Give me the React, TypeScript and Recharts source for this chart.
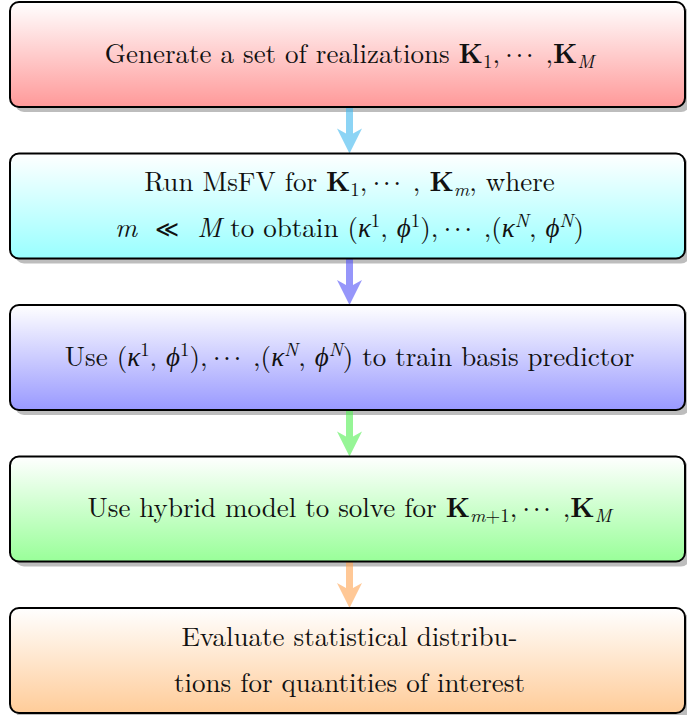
import React from "react";
import { BarChart, Bar, XAxis, YAxis } from "recharts";

// segment styles: n = roman, b = bold, i = italic, g = greek italic, o = relation,
// d = centred dots, sub/sup = scripts (i = italic script)
type Kind = "n" | "b" | "i" | "g" | "o" | "d" | "sub" | "subi" | "sup" | "supi";
type Seg = [string, Kind];

const DOTS = "\u22c5\u22c5\u22c5";

const stepIds = ["generate", "msfv", "train", "hybrid", "evaluate"];
const stepSpan = [1, 1, 1, 1, 1];

const stepText: Seg[][][] = [
  [[
    ["Generate a set of realizations ", "n"], ["K", "b"], ["1", "sub"], [",\u2009", "n"], [DOTS, "d"], [" ,", "n"],
    ["K", "b"], ["M", "subi"],
  ]],
  [
    [
      ["Run MsFV for ", "n"], ["K", "b"], ["1", "sub"], [",\u2009", "n"], [DOTS, "d"], [" , ", "n"], ["K", "b"],
      ["m", "subi"], [", where", "n"],
    ],
    [
      ["m", "i"], ["  ", "n"], ["\u226a", "o"], ["  ", "n"], ["M", "i"], [" to obtain (", "n"], ["\u03ba", "g"], ["1", "sup"],
      [", ", "n"], ["\u03d5", "g"], ["1", "sup"], ["),\u2009", "n"], [DOTS, "d"], [" ,(", "n"], ["\u03ba", "g"],
      ["N", "supi"], [", ", "n"], ["\u03d5", "g"], ["N", "supi"], [")", "n"],
    ],
  ],
  [[
    ["Use (", "n"], ["\u03ba", "g"], ["1", "sup"], [", ", "n"], ["\u03d5", "g"], ["1", "sup"], ["),\u2009", "n"],
    [DOTS, "d"], [" ,(", "n"], ["\u03ba", "g"], ["N", "supi"], [", ", "n"], ["\u03d5", "g"], ["N", "supi"],
    [") to train basis predictor", "n"],
  ]],
  [[
    ["Use hybrid model to solve for ", "n"], ["K", "b"], ["m", "subi"], ["+1", "sub"], [",\u2009", "n"],
    [DOTS, "d"], [" ,", "n"], ["K", "b"], ["M", "subi"],
  ]],
  [
    [["Evaluate statistical distribu-", "n"]],
    [["tions for quantities of interest", "n"]],
  ],
];

const data = stepIds.map((id, i) => ({ id, span: stepSpan[i], lines: stepText[i] }));

const BOX_BOTTOM = ["#ff9999", "#99ffff", "#9999ff", "#99ff99", "#ffcc99"];
const ARROW = ["#3fb7ee", "#5050f7", "#50ee50", "#ffa350"];

const W = 687;
const H = 715;
const MT = -21;
const MB = -21.5;
const BAR = 105;
const BAND = (H - MT - MB) / stepIds.length;

const FONT = "Latin Modern Roman";
const GREEK_FONT = "Liberation Serif";
const REL_FONT = "DejaVu Serif";
const FS = 27;
const LINE_GAP = 46;

function segStyle(kind: Kind): React.CSSProperties {
  const script = kind === "sub" || kind === "subi" || kind === "sup" || kind === "supi";
  return {
    fontFamily: kind === "g" ? GREEK_FONT : kind === "o" || kind === "d" ? REL_FONT : FONT,
    fontSize: script ? FS * 0.7 : kind === "o" ? FS * 0.85 : kind === "d" ? FS * 0.8 : FS,
    fontWeight: kind === "b" ? "bold" : "normal",
    fontStyle: kind === "i" || kind === "g" || kind === "subi" || kind === "supi" ? "italic" : "normal",
    letterSpacing: kind === "d" ? 3 : 0,
  };
}

function RichLine({ segs, x, y }: { segs: Seg[]; x: number; y: number }) {
  let cur = 0;
  return (
    <text
      x={x}
      y={y}
      textAnchor="middle"
      fill="#111"
      style={{ fontFamily: FONT, fontSize: FS, whiteSpace: "pre" }}
    >
      {segs.map(([t, kind], k) => {
        const target = kind === "sub" || kind === "subi" ? 5 : kind === "sup" || kind === "supi" ? -10 : 0;
        const dy = target - cur;
        cur = target;
        return (
          <tspan key={k} dy={dy} style={segStyle(kind)}>
            {t}
          </tspan>
        );
      })}
    </text>
  );
}

function StepBox(props: any) {
  const { x, y, width, height, payload } = props;
  const i = stepIds.indexOf(payload.id);
  const cx = x + width / 2 + 2;
  const lines: Seg[][] = payload.lines;
  const mid = y + height / 2;
  const first = mid - ((lines.length - 1) * LINE_GAP) / 2 + 8;

  let arrow = null;
  if (i < stepIds.length - 1) {
    const y0 = y + height;
    const tip = y + BAND;
    arrow = (
      <path
        d={`M${cx - 3.5},${y0} L${cx + 3.5},${y0} L${cx + 3.5},${tip - 20} L${cx + 12.5},${tip - 25} L${cx},${tip} L${cx - 12.5},${tip - 25} L${cx - 3.5},${tip - 20} Z`}
        fill={ARROW[i]}
        fillOpacity={0.6}
      />
    );
  }

  return (
    <g>
      <defs>
        <linearGradient id={`box-grad-${i}`} x1="0" y1="0" x2="0" y2="1">
          <stop offset="0%" stopColor="#ffffff" />
          <stop offset="100%" stopColor={BOX_BOTTOM[i]} />
        </linearGradient>
      </defs>
      <rect x={x + 5} y={y + 5} width={width} height={height} rx={9} fill="#bdbdbd" />
      {arrow}
      <rect x={x} y={y} width={width} height={height} rx={9} fill={`url(#box-grad-${i})`} stroke="#000" strokeWidth={2} />
      {lines.map((segs, k) => (
        <RichLine key={k} segs={segs} x={cx} y={first + k * LINE_GAP} />
      ))}
    </g>
  );
}

export default function App() {
  return (
    <div style={{ width: W, height: H, background: "#fff" }}>
      <style>{"body{margin:0}"}</style>
      <BarChart
        width={W}
        height={H}
        data={data}
        layout="vertical"
        margin={{ top: MT, right: 2, bottom: MB, left: 10 }}
        barSize={BAR}
      >
        <XAxis type="number" domain={[0, 1]} hide />
        <YAxis type="category" dataKey="id" hide />
        <Bar dataKey="span" isAnimationActive={false} shape={StepBox} />
      </BarChart>
    </div>
  );
}
